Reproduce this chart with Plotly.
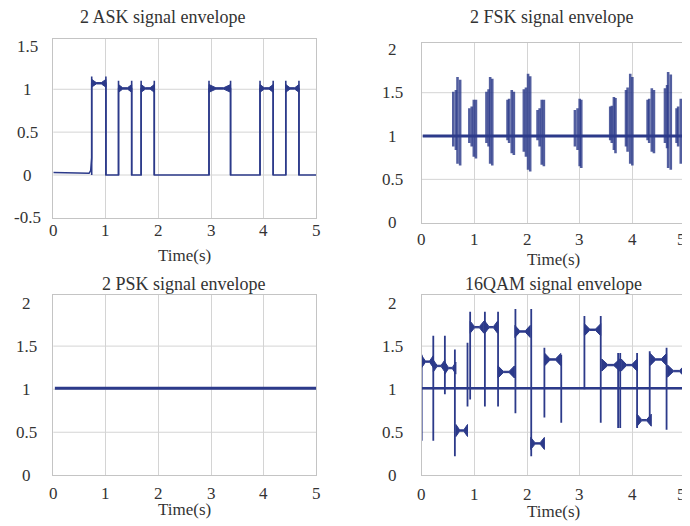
import plotly.graph_objects as go

OFF = 8  # default page margin of the browser body
W, H = 690 - OFF, 526 - OFF
NAVY = '#2c3a8a'
NAVY_LIGHT = 'rgba(44,58,138,0.82)'
GRID = '#d4d4d4'
BORDER = '#c4c4c4'
TXT = '#333333'
FONT = 'Liberation Serif'

# ---------------- data ----------------
x_ticks = [0, 1, 2, 3, 4, 5]
x_tick_labels = ['0', '1', '2', '3', '4', '5']
ask_yticks = [-0.5, 0, 0.5, 1, 1.5]
ask_ytick_labels = ['-0.5', '0', '0.5', '1', '1.5']
yticks = [0, 0.5, 1, 1.5, 2]
ytick_labels = ['0', '0.5', '1', '1.5', '2']
titles = ['2 ASK signal envelope', '2 FSK signal envelope',
          '2 PSK signal envelope', '16QAM signal envelope']
x_title = 'Time(s)'

# 2ASK
ask_lead_t = [0.0, 0.2, 0.4, 0.6, 0.68, 0.71, 0.73]
ask_lead_v = [0.028, 0.026, 0.022, 0.018, 0.02, 0.05, 0.2]
ask_start = [0.73, 1.24, 1.67, 2.96, 3.93, 4.42]
ask_end = [1.00, 1.49, 1.92, 3.37, 4.18, 4.67]
ask_level = [1.07, 1.01, 1.01, 1.01, 1.01, 1.01]
ask_peak = [1.15, 1.10, 1.10, 1.10, 1.10, 1.10]

# 2FSK
fsk_base = 1.0
fsk_t = [0.60, 0.65, 0.68, 0.73, 0.905, 0.95, 0.99, 1.03, 1.23, 1.27, 1.30, 1.34,
         1.63, 1.66, 1.71, 1.75, 1.94, 1.98, 2.02, 2.06, 2.20, 2.24, 2.28, 2.32,
         2.91, 2.96, 3.00, 3.03, 3.58, 3.61, 3.65, 3.68, 3.88, 3.91, 3.96, 4.00,
         4.29, 4.32, 4.37, 4.41, 4.62, 4.66, 4.68, 4.73, 4.84, 4.87, 4.92, 4.97]
fsk_hi = [1.51, 1.53, 1.68, 1.65, 1.32, 1.34, 1.42, 1.42, 1.51, 1.54, 1.68, 1.66,
          1.42, 1.43, 1.53, 1.51, 1.54, 1.56, 1.72, 1.69, 1.30, 1.32, 1.42, 1.42,
          1.30, 1.32, 1.43, 1.42, 1.34, 1.35, 1.45, 1.44, 1.53, 1.56, 1.72, 1.68,
          1.42, 1.43, 1.55, 1.53, 1.55, 1.59, 1.74, 1.71, 1.32, 1.34, 1.43, 1.42]
fsk_lo = [0.88, 0.84, 0.68, 0.66, 0.92, 0.88, 0.76, 0.74, 0.92, 0.88, 0.68, 0.66,
          0.95, 0.92, 0.80, 0.78, 0.82, 0.76, 0.61, 0.59, 0.95, 0.88, 0.67, 0.65,
          0.88, 0.84, 0.65, 0.63, 0.95, 0.92, 0.84, 0.80, 0.88, 0.82, 0.68, 0.66,
          0.95, 0.92, 0.82, 0.80, 0.92, 0.86, 0.63, 0.61, 0.92, 0.88, 0.68, 0.67]

# 2PSK
psk_t = [0.03, 5.0]
psk_v = [1.01, 1.01]

# 16QAM
qam_base = 1.01
qam_start = [0.00, 0.22, 0.44, 0.65, 0.92, 1.20, 1.45, 1.77, 2.07, 2.34, 3.09, 3.42, 3.79, 4.09, 4.34, 4.67]
qam_end = [0.22, 0.44, 0.65, 0.87, 1.18, 1.44, 1.76, 2.06, 2.33, 2.64, 3.40, 3.76, 4.09, 4.36, 4.65, 5.00]
qam_level = [1.32, 1.27, 1.245, 0.52, 1.72, 1.72, 1.20, 1.67, 0.37, 1.345, 1.69, 1.28, 1.28, 0.64, 1.345, 1.21]
qam_spike_t = [0.00, 0.22, 0.44, 0.63, 0.87, 0.92, 1.20, 1.45, 1.78, 2.08, 2.33, 2.65, 3.09, 3.40,
               3.73, 3.77, 4.09, 4.33, 4.65, 4.99]
qam_spike_hi = [1.40, 1.62, 1.62, 1.46, 1.54, 1.90, 1.90, 1.90, 1.93, 1.93, 1.48, 1.40, 1.85, 1.85,
                1.42, 1.42, 1.42, 1.44, 1.48, 1.36]
qam_spike_lo = [0.40, 0.40, 0.94, 0.22, 0.80, 0.88, 0.80, 0.80, 0.72, 0.22, 0.67, 0.61, 1.00, 0.61,
                0.55, 0.55, 0.55, 0.61, 0.53, 0.47]

# ---------------- layout geometry (screen pixels) ----------------
boxes = {  # x0, x1, ytop, ybottom
    1: (53.3, 316.3, 39.3, 218.3),
    2: (421.7, 685.0, 43.3, 222.7),
    3: (53.3, 316.3, 295.3, 475.3),
    4: (421.7, 685.0, 295.3, 475.3),
}
yranges = {1: [-0.505, 1.583], 2: [0, 2.07], 3: [0, 2.09], 4: [0, 2.09]}


def px(x):
    return (x - OFF) / W


def py(y):
    return 1 - (y - OFF) / H


def vsegs(ts, lo, hi):
    xs, ys = [], []
    for t, a, b in zip(ts, lo, hi):
        xs += [t, t, None]
        ys += [a, b, None]
    return xs, ys


def bowties(starts, ends, levels, hh, frac=0.32, thin=0.008):
    xs, ys = [], []
    for s, e, L in zip(starts, ends, levels):
        w = (e - s) * frac
        xs += [s, s + w, e - w, e, e, e - w, s + w, s, s, None]
        ys += [L + hh, L + thin, L + thin, L + hh, L - hh, L - thin, L - thin, L - hh, L + hh, None]
    return xs, ys


fig = go.Figure()

# ASK main path
ax, ay = list(ask_lead_t), list(ask_lead_v)
for s, e, L in zip(ask_start, ask_end, ask_level):
    ax += [s, s, e, e]
    ay += [0 if s != ask_start[0] else ask_lead_v[-1], L, L, 0]
ax += [5.0]
ay += [0]
fig.add_trace(go.Scatter(x=ax, y=ay, mode='lines', line=dict(color=NAVY, width=1.5),
                         xaxis='x', yaxis='y', hoverinfo='skip'))
sx, sy = vsegs(ask_start + ask_end, [0.0] * 12, ask_peak + ask_peak)
fig.add_trace(go.Scatter(x=sx, y=sy, mode='lines', line=dict(color=NAVY, width=1.6),
                         xaxis='x', yaxis='y', hoverinfo='skip'))
bx, by = bowties(ask_start, ask_end, ask_level, 0.045)
fig.add_trace(go.Scatter(x=bx, y=by, mode='lines', fill='toself', fillcolor=NAVY,
                         line=dict(color=NAVY, width=1), xaxis='x', yaxis='y', hoverinfo='skip'))

# FSK
fx, fy = vsegs(fsk_t, fsk_lo, fsk_hi)
fig.add_trace(go.Scatter(x=fx, y=fy, mode='lines', line=dict(color=NAVY_LIGHT, width=2.6),
                         xaxis='x2', yaxis='y2', hoverinfo='skip'))
fig.add_trace(go.Scatter(x=[0.02, 5.0], y=[fsk_base, fsk_base], mode='lines',
                         line=dict(color=NAVY, width=3), xaxis='x2', yaxis='y2', hoverinfo='skip'))

# PSK
fig.add_trace(go.Scatter(x=psk_t, y=psk_v, mode='lines', line=dict(color=NAVY, width=3),
                         xaxis='x3', yaxis='y3', hoverinfo='skip'))

# QAM
qx, qy = vsegs(qam_spike_t, qam_spike_lo, qam_spike_hi)
fig.add_trace(go.Scatter(x=qx, y=qy, mode='lines', line=dict(color=NAVY, width=1.8),
                         xaxis='x4', yaxis='y4', hoverinfo='skip'))
fig.add_trace(go.Scatter(x=[0.0, 5.0], y=[qam_base, qam_base], mode='lines',
                         line=dict(color=NAVY, width=2.6), xaxis='x4', yaxis='y4', hoverinfo='skip'))
bx, by = bowties(qam_start, qam_end, qam_level, 0.07)
fig.add_trace(go.Scatter(x=bx, y=by, mode='lines', fill='toself', fillcolor=NAVY,
                         line=dict(color=NAVY, width=1), xaxis='x4', yaxis='y4', hoverinfo='skip'))

layout = dict(width=W, height=H, margin=dict(l=0, r=0, t=0, b=0), showlegend=False,
              plot_bgcolor='white', paper_bgcolor='white', font=dict(family=FONT, color=TXT))
annotations = []
shapes = []
ylabel_cx = {1: 27, 2: 392.5, 3: 26, 4: 392.5}
xlabel_cy = {1: 231, 2: 239, 3: 493, 4: 494}
xtitle_cy = {1: 255, 2: 259, 3: 509, 4: 511}
title_pos = {1: (162, 17), 2: (552, 17), 3: (184, 284), 4: (553, 284)}
TICK_SIZE = 17

for i in range(1, 5):
    x0, x1, yt, yb = boxes[i]
    sfx = '' if i == 1 else str(i)
    layout['xaxis' + sfx] = dict(domain=[px(x0), min(px(x1), 1)], range=[0, 5], anchor='y' + sfx,
                                 tickvals=x_ticks, showticklabels=False, showgrid=True,
                                 gridcolor=GRID, gridwidth=1, zeroline=False,
                                 showline=True, linecolor=BORDER, mirror=True, ticks='')
    layout['yaxis' + sfx] = dict(domain=[py(yb), py(yt)], range=yranges[i],
                                 anchor='x' + sfx, showticklabels=False, showgrid=False,
                                 zeroline=False, showline=True, linecolor=BORDER, mirror=True, ticks='')
    tv = ask_yticks if i == 1 else yticks
    tl = ask_ytick_labels if i == 1 else ytick_labels
    for v in tv[1:-1]:
        shapes.append(dict(type='line', xref=('x%s domain' % sfx), x0=0, x1=1,
                           yref='y' + sfx, y0=v, y1=v, layer='below',
                           line=dict(color=GRID, width=1)))
    for v, lab in zip(tv, tl):
        annotations.append(dict(text=lab, x=px(ylabel_cx[i]), xref='paper', y=v, yref='y' + sfx,
                                xanchor='center', yanchor='middle', showarrow=False,
                                font=dict(size=TICK_SIZE, family=FONT, color=TXT)))
    for v, lab in zip(x_ticks, x_tick_labels):
        edge = (i in (2, 4) and v == x_ticks[-1])
        annotations.append(dict(text=lab, x=v, xref='x' + sfx, y=py(xlabel_cy[i]), yref='paper',
                                xanchor='right' if edge else 'center', yanchor='middle',
                                showarrow=False, xshift=3 if edge else 0,
                                font=dict(size=TICK_SIZE, family=FONT, color=TXT)))
    annotations.append(dict(text=x_title, x=px((x0 + x1) / 2), xref='paper', y=py(xtitle_cy[i]),
                            yref='paper', xanchor='center', yanchor='middle', showarrow=False,
                            font=dict(size=17, family=FONT, color=TXT)))
    tx, ty = title_pos[i]
    annotations.append(dict(text=titles[i - 1], x=px(tx), xref='paper', y=py(ty), yref='paper',
                            xanchor='center', yanchor='middle', showarrow=False,
                            font=dict(size=18, family=FONT, color=TXT)))

layout['annotations'] = annotations
layout['shapes'] = shapes
fig.update_layout(**layout)
fig.write_html('out.html')
